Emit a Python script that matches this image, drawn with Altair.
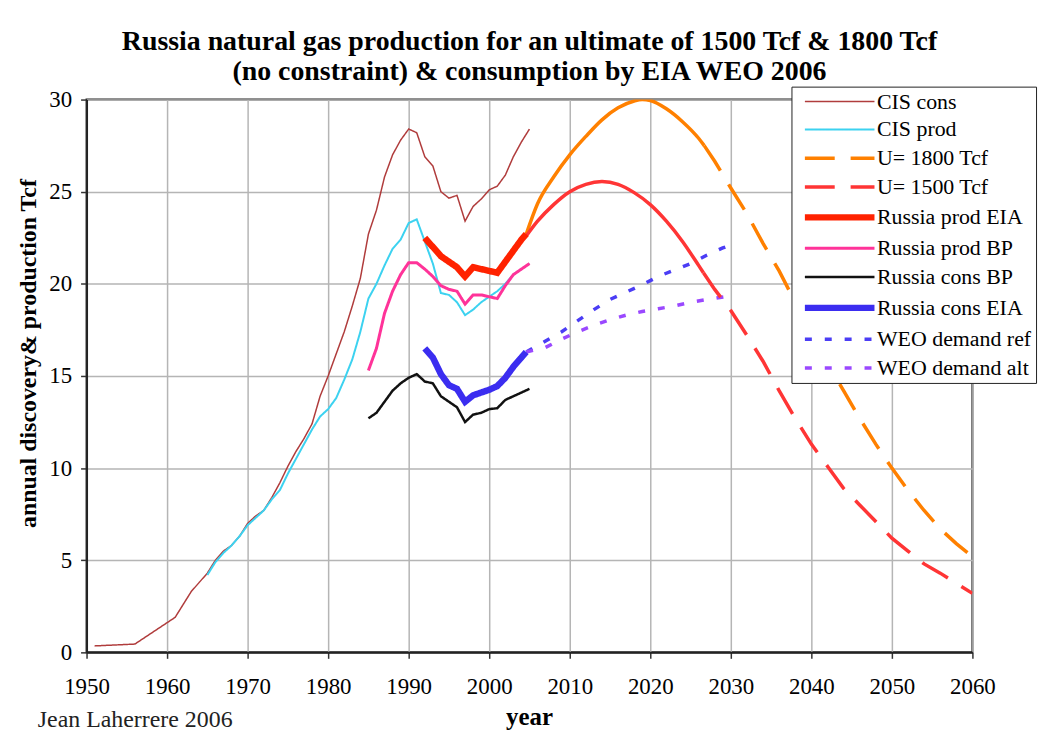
import altair as alt
import pandas as pd

SERIF = "Liberation Serif"

# ---------------- data ----------------
cis_cons_years = [1951, 1956, 1961] + list(range(1962, 2006))
cis_cons_vals = [0.35, 0.45, 1.9, 2.6, 3.3, 3.8, 4.3, 5.0, 5.5, 5.8, 6.3, 7.0,
                 7.4, 7.7, 8.4, 9.2, 10.1, 10.9, 11.6, 12.4, 13.9, 15.0,
                 16.2, 17.4, 18.8, 20.3, 22.7, 24.0, 25.8, 27.0, 27.8, 28.4,
                 28.2, 26.9, 26.4, 25.0, 24.65, 24.8, 23.4, 24.2, 24.6, 25.1,
                 25.3, 25.9, 26.9, 27.7, 28.4]

cis_prod_years = list(range(1965, 2006))
cis_prod_vals = [4.2, 4.9, 5.4, 5.8, 6.3, 6.9, 7.3, 7.7, 8.3, 8.8, 9.7, 10.5,
                 11.3, 12.1, 12.8, 13.2, 13.8, 14.8, 15.9, 17.4, 19.2, 20.0,
                 21.0, 21.9, 22.4, 23.3, 23.5, 22.3, 21.1, 19.5, 19.4, 19.0,
                 18.3, 18.6, 19.0, 19.3, 19.6, 20.0, 20.5, 20.8, 21.1]

bp_prod_years = list(range(1985, 2006))
bp_prod_vals = [15.3, 16.5, 18.4, 19.6, 20.5, 21.15, 21.15, 20.8, 20.4, 19.9,
                19.7, 19.6, 18.9, 19.4, 19.4, 19.3, 19.2, 19.9, 20.5, 20.8, 21.1]

bp_cons_years = list(range(1985, 2006))
bp_cons_vals = [12.7, 13.0, 13.6, 14.2, 14.6, 14.9, 15.1, 14.7, 14.6, 13.9,
                13.6, 13.3, 12.5, 12.9, 13.0, 13.2, 13.25, 13.7, 13.9, 14.1, 14.3]

eia_prod_years = list(range(1992, 2005)) + [2004.6]
eia_prod_vals = [22.5, 22.0, 21.5, 21.2, 20.9, 20.4, 20.9, 20.8, 20.7, 20.6,
                 21.2, 21.8, 22.4, 22.7]

eia_cons_years = list(range(1992, 2005)) + [2004.6]
eia_cons_vals = [16.5, 16.0, 15.1, 14.5, 14.3, 13.6, 13.95, 14.1, 14.25, 14.45,
                 14.9, 15.5, 16.0, 16.3]

u1800_solid_years = [2004.6, 2006, 2008, 2010, 2012, 2014, 2016, 2018, 2019,
                     2020, 2022, 2024, 2026, 2026.7]
u1800_solid_vals = [22.7, 24.35, 25.8, 27.0, 28.0, 28.9, 29.55, 29.92, 30.0,
                    29.95, 29.5, 28.8, 27.9, 27.5]
u1800_dash_years = [2026.7] + list(range(2028, 2061, 2))
u1800_dash_vals = [27.5, 26.65, 25.2, 23.8, 22.2, 20.7, 19.0, 17.3, 15.7, 14.2,
                   12.7, 11.3, 10.0, 8.8, 7.7, 6.7, 5.9, 5.2]

u1500_solid_years = [2004.6, 2006, 2008, 2010, 2012, 2014, 2016, 2018, 2020,
                     2022, 2024, 2026, 2026.6]
u1500_solid_vals = [22.6, 23.4, 24.3, 25.0, 25.4, 25.55, 25.4, 24.95, 24.3,
                    23.4, 22.3, 21.0, 20.6]
u1500_dash_years = [2026.6] + list(range(2028, 2061, 2))
u1500_dash_vals = [20.6, 19.7, 18.55, 17.2, 15.8, 14.2, 12.7, 11.3, 10.1, 8.9,
                   8.0, 7.1, 6.2, 5.5, 4.8, 4.3, 3.75, 3.2]

weo_ref_years = [2004.6, 2007, 2009, 2011, 2013, 2015, 2017, 2019, 2021, 2023,
                 2025, 2027, 2029, 2030]
weo_ref_vals = [16.3, 16.9, 17.4, 18.0, 18.6, 19.15, 19.55, 19.95, 20.4, 20.75,
                21.1, 21.55, 21.95, 22.1]

weo_alt_years = [2004.6, 2007, 2009, 2011, 2013, 2015, 2017, 2019, 2021, 2023,
                 2025, 2027, 2030]
weo_alt_vals = [16.3, 16.55, 17.0, 17.4, 17.75, 18.05, 18.3, 18.5, 18.65, 18.8,
                19.0, 19.15, 19.35]

series_names = ["CIS cons", "CIS prod", "U= 1800 Tcf", "U= 1500 Tcf",
                "Russia prod EIA", "Russia prod BP", "Russia cons BP",
                "Russia cons EIA", "WEO demand ref", "WEO demand alt"]
series_colors = ["#b03c3c", "#3cd2f0", "#ff8000", "#ff3535", "#ff2200",
                 "#ff3399", "#111111", "#3b2df0", "#4b3df5", "#9a48ff"]
series_dashes = [[1, 0], [1, 0], [30, 16], [30, 16], [1, 0], [1, 0], [1, 0],
                 [1, 0], [7, 13], [7, 13]]
series_widths = [1.5, 2, 3.5, 3.5, 6.5, 3, 2.5, 6.5, 3.5, 3.5]

title_lines = ["Russia natural gas production for an ultimate of 1500 Tcf & 1800 Tcf",
               "(no constraint) & consumption by EIA WEO 2006"]
credit = "Jean Laherrere 2006"

# ---------------- tables ----------------
def frame(name, years, vals, order):
    return pd.DataFrame({"series": name, "year": years, "value": vals, "ord": order})

main_df = pd.concat([
    frame("CIS cons", cis_cons_years, cis_cons_vals, 0),
    frame("CIS prod", cis_prod_years, cis_prod_vals, 1),
    frame("Russia prod BP", bp_prod_years, bp_prod_vals, 2),
    frame("Russia cons BP", bp_cons_years, bp_cons_vals, 3),
    frame("WEO demand ref", weo_ref_years, weo_ref_vals, 4),
    frame("WEO demand alt", weo_alt_years, weo_alt_vals, 5),
    frame("U= 1800 Tcf", u1800_dash_years, u1800_dash_vals, 6),
    frame("U= 1500 Tcf", u1500_dash_years, u1500_dash_vals, 7),
    frame("Russia prod EIA", eia_prod_years, eia_prod_vals, 8),
    frame("Russia cons EIA", eia_cons_years, eia_cons_vals, 9),
], ignore_index=True)

solid_df = pd.concat([
    frame("U= 1800 Tcf", u1800_solid_years, u1800_solid_vals, 0),
    frame("U= 1500 Tcf", u1500_solid_years, u1500_solid_vals, 1),
], ignore_index=True)

credit_df = pd.DataFrame({"t": [credit]})

# ---------------- encodings ----------------
# legend symbol: a 70px horizontal stroke (custom path scaled by sqrt(size)/2)
legend = alt.Legend(
    orient="none", legendX=709, legendY=-13, title=None,
    symbolType="M-0.4,0H6.6", symbolSize=400,
    labelFont=SERIF, labelFontSize=22, labelColor="black", labelLimit=400,
    labelOffset=55, fillColor="white", strokeColor="#222",
    padding=4, rowPadding=6,
)

x_scale = alt.Scale(domain=[1950, 2060], nice=False, zero=False)
y_scale = alt.Scale(domain=[0, 30], nice=False, zero=False)

x_enc = alt.X(
    "year:Q",
    scale=x_scale,
    axis=alt.Axis(
        values=list(range(1950, 2061, 10)), format="d", labelFlush=False,
        labelFont=SERIF, labelFontSize=23, labelColor="black", labelPadding=17,
        tickSize=6, tickColor="#333", tickWidth=1.5,
        grid=True, gridColor="#b5b5b5", gridWidth=1.5,
        domainColor="#222", domainWidth=2,
        title="year", titleFont=SERIF, titleFontSize=25, titleFontWeight="bold",
        titleColor="black", titleX=445, titleY=73, titleBaseline="alphabetic",
    ),
)
y_enc = alt.Y(
    "value:Q",
    scale=y_scale,
    axis=alt.Axis(
        values=list(range(0, 31, 5)), labelFlush=False,
        labelFont=SERIF, labelFontSize=23, labelColor="black", labelPadding=9,
        tickSize=6, tickColor="#333", tickWidth=1.5,
        grid=True, gridColor="#b5b5b5", gridWidth=1.5,
        domainColor="#222", domainWidth=2,
        title="annual discovery& production Tcf", titleFont=SERIF,
        titleFontSize=24, titleFontWeight="bold", titleColor="black",
        titleX=-51, titleY=255, titleAngle=270, titleAlign="center",
        titleBaseline="alphabetic",
    ),
)

color_scale = alt.Scale(domain=series_names, range=series_colors)
dash_scale = alt.Scale(type="ordinal", domain=series_names, range=series_dashes)
width_scale = alt.Scale(type="ordinal", domain=series_names, range=series_widths)

main_layer = alt.Chart(main_df).mark_line(strokeCap="butt", clip=True).encode(
    x=x_enc,
    y=y_enc,
    color=alt.Color("series:N", scale=color_scale, legend=legend),
    strokeDash=alt.StrokeDash("series:N", scale=dash_scale, legend=legend),
    strokeWidth=alt.StrokeWidth("series:N", scale=width_scale, legend=legend),
    order="year:Q",
)

solid_layer = alt.Chart(solid_df).mark_line(strokeWidth=3.5, clip=True,
                                            interpolate="monotone").encode(
    x=alt.X("year:Q", scale=x_scale),
    y=alt.Y("value:Q", scale=y_scale),
    color=alt.Color("series:N", scale=color_scale, legend=legend),
    detail="series:N",
)

credit_layer = alt.Chart(credit_df).mark_text(
    align="left", baseline="alphabetic", font=SERIF, fontSize=24, color="#222"
).encode(text="t:N", x=alt.value(-49), y=alt.value(631))

chart = alt.layer(solid_layer, main_layer, credit_layer).properties(
    width=891,
    height=556,
    autosize=alt.AutoSizeParams(type="none"),
    padding={"left": 79, "top": 90, "right": 72, "bottom": 78},
    title=alt.TitleParams(
        text=title_lines, font=SERIF, fontSize=28, fontWeight="bold",
        color="black", anchor="middle", offset=0, lineHeight=30,
    ),
    background="white",
).configure_view(stroke="#222", strokeWidth=2)

chart.save("out.html", embed_options={"renderer": "svg", "actions": False})
